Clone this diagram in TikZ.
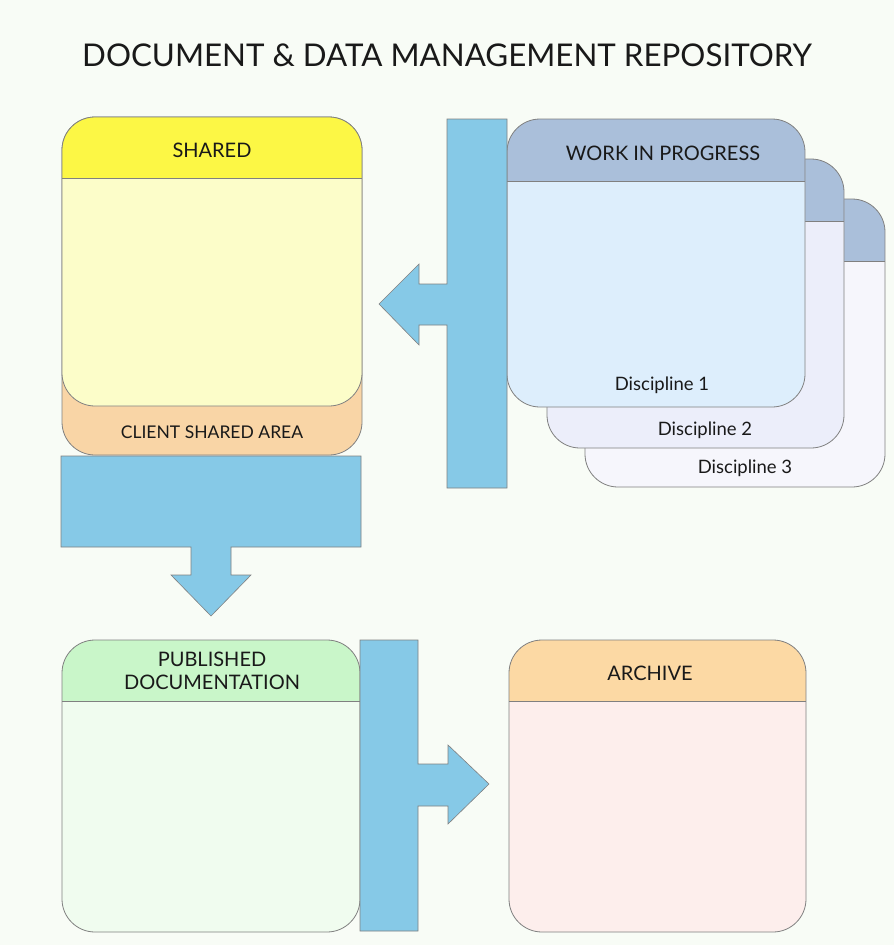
\documentclass[tikz,border=0pt]{standalone}
\usepackage{fontspec}
\setmainfont{Lato}
\definecolor{bg}{HTML}{F8FCF6}
\definecolor{arrowblue}{HTML}{86C9E7}
\definecolor{edge}{HTML}{808080}
\definecolor{shhead}{HTML}{FCF745}
\definecolor{shbody}{HTML}{FCFDC9}
\definecolor{client}{HTML}{F9D5A6}
\definecolor{wiphead}{HTML}{AABFDA}
\definecolor{wipbodyA}{HTML}{DDEEFC}
\definecolor{wipbodyB}{HTML}{ECEEFA}
\definecolor{wipbodyC}{HTML}{F6F6FC}
\definecolor{pubhead}{HTML}{C9F6C9}
\definecolor{pubbody}{HTML}{F0FCEF}
\definecolor{archead}{HTML}{FCD9A4}
\definecolor{arcbody}{HTML}{FDEEEC}
\tikzset{
  outline/.style={draw=edge, line width=0.8pt},
  blockarrow/.style={fill=arrowblue, draw=edge, line width=0.6pt},
  hlabel/.style={font=\fontsize{20}{23}\selectfont, text=black!90, inner sep=0pt},
  dlabel/.style={font=\fontsize{18.5}{21}\selectfont, text=black!90, inner sep=0pt},
}
\newcommand{\rbox}[7]{%
  \fill[#7, rounded corners=33pt] (#1,#2) rectangle (#3,#4);
  \begin{scope}
    \clip[rounded corners=33pt] (#1,#2) rectangle (#3,#4);
    \fill[#6] (#1,#2) rectangle (#3,#5);
  \end{scope}
  \draw[outline] (#1,#5) -- (#3,#5);
  \draw[outline, rounded corners=33pt] (#1,#2) rectangle (#3,#4);
}
\begin{document}
\begin{tikzpicture}[x=1pt, y=-1pt]
\fill[bg] (0,0) rectangle (894,945);
\useasboundingbox (0,0) rectangle (894,945);

% title
\node[font=\fontsize{31.3}{36}\selectfont, text=black!90, inner sep=0pt] (title) at (447,55) {DOCUMENT \& DATA MANAGEMENT REPOSITORY};

% shared
\fill[client, rounded corners=33pt] (62,117) rectangle (362,455);
\draw[outline, rounded corners=33pt] (62,117) rectangle (362,455);
\rbox{62}{117}{362}{406}{178}{shhead}{shbody}
\node[hlabel] (shared) at (212,150) {SHARED};
\node[hlabel, font=\fontsize{17.5}{20}\selectfont] (clientarea) at (212,432) {CLIENT SHARED AREA};

% down arrow
\draw[blockarrow] (61,456) -- (361,456) -- (361,547) -- (231,547) -- (231,575) -- (251,575)
  -- (211,616) -- (171,575) -- (191,575) -- (191,547) -- (61,547) -- cycle;

% WIP stack
\rbox{585}{199}{885}{487}{261}{wiphead}{wipbodyC}
\rbox{547}{159}{844}{448}{221}{wiphead}{wipbodyB}
\rbox{507}{119}{805}{407}{181}{wiphead}{wipbodyA}
\node[hlabel] (wip) at (663,153) {WORK IN PROGRESS};
\node[dlabel] (d1) at (662,385) {Discipline 1};
\node[dlabel] (d2) at (705,430) {Discipline 2};
\node[dlabel] (d3) at (745,468) {Discipline 3};

% left arrow with bar
\draw[blockarrow] (447,119) -- (507,119) -- (507,488) -- (447,488) -- (447,325) -- (419,325)
  -- (419,345) -- (379,304) -- (419,264) -- (419,284) -- (447,284) -- cycle;

% published & archive
\rbox{62}{640}{360}{932}{701}{pubhead}{pubbody}
\node[hlabel, align=center] (pub) at (212,671) {PUBLISHED\\DOCUMENTATION};
\rbox{509}{640}{806}{932}{701}{archead}{arcbody}
\node[hlabel] (arc) at (650,673) {ARCHIVE};

% right arrow with bar
\draw[blockarrow] (360,640) -- (418,640) -- (418,764) -- (448,764) -- (448,745) -- (489,784)
  -- (448,824) -- (448,806) -- (418,806) -- (418,931) -- (360,931) -- cycle;
\end{tikzpicture}
\end{document}
